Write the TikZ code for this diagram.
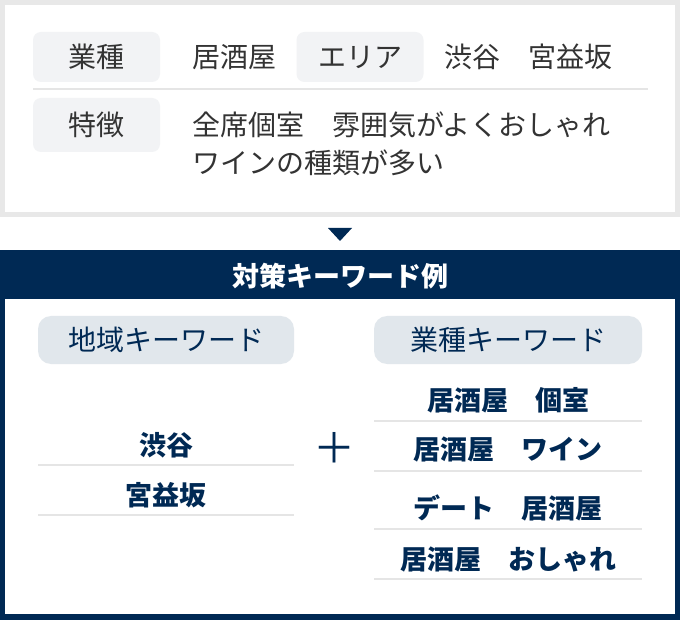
\documentclass[tikz,border=0pt]{standalone}
\usepackage{fontspec}
\setmainfont{Noto Sans CJK JP}
\definecolor{navy}{RGB}{0,41,84}
\definecolor{framegray}{RGB}{232,232,232}
\definecolor{tagfill}{RGB}{242,243,245}
\definecolor{pillfill}{RGB}{225,231,236}
\definecolor{rulegray}{RGB}{229,229,229}
\definecolor{inkgray}{RGB}{51,51,51}
\begin{document}
\begin{tikzpicture}[x=1pt,y=-1pt]
\tikzstyle{every node}+=[inner sep=0pt,font=\fontsize{28}{38}\selectfont]
\tikzstyle{tag}=[fill=tagfill,rounded corners=8,text=inkgray,minimum width=127]
\tikzstyle{fact}=[anchor=west,text=inkgray]
\tikzstyle{pill}=[fill=pillfill,rounded corners=13,text=navy,minimum height=48]
\tikzstyle{kw}=[text=navy,font=\fontsize{27}{38}\selectfont\bfseries]
\tikzstyle{rule}=[rulegray,line width=2.5]
\useasboundingbox (0,0) rectangle (680,620);
\fill [framegray] (0,0) rectangle (680,217);
\fill [white] (5,5) rectangle (675,212);
\node [tag,minimum height=50] (gyoshu) at (96.5,57) {業種};
\node [fact] (izakaya) at (192,57) {居酒屋};
\node [tag,minimum height=50] (area) at (360,57) {エリア};
\node [fact] (areaval) at (444,57) {渋谷　宮益坂};
\draw [rule] (33,89) -- (648,89);
\node [tag,minimum height=54] (tokucho) at (96.5,125) {特徴};
\node [fact] (feat1) at (192,125) {全席個室　雰囲気がよくおしゃれ};
\node [fact] (feat2) at (192,163) {ワインの種類が多い};
\fill [navy] (328,228) -- (352,228) -- (340,241) -- cycle;
\fill [navy] (0,250) rectangle (680,620);
\fill [white] (5,299) rectangle (675,614);
\node [kw,text=white] (title) at (340,276) {対策キーワード例};
\node [pill,minimum width=256] (chiiki) at (166,340) {地域キーワード};
\node [pill,minimum width=268] (gyokw) at (508,340) {業種キーワード};
\node [kw] (shibuya) at (166,445) {渋谷};
\draw [rule] (38,465) -- (294,465);
\node [kw] (miyamasu) at (166,495) {宮益坂};
\draw [rule] (38,515) -- (294,515);
\node [text=navy,font=\fontsize{42}{42}\selectfont] (plus) at (334.5,447.5) {＋};
\node [kw] (kw1) at (508,400) {居酒屋　個室};
\draw [rule] (374,421) -- (642,421);
\node [kw] (kw2) at (508,450) {居酒屋　ワイン};
\draw [rule] (374,471) -- (642,471);
\node [kw] (kw3) at (508,508) {デート　居酒屋};
\draw [rule] (374,529) -- (642,529);
\node [kw] (kw4) at (508,560) {居酒屋　おしゃれ};
\draw [rule] (374,579) -- (642,579);
\end{tikzpicture}
\end{document}
